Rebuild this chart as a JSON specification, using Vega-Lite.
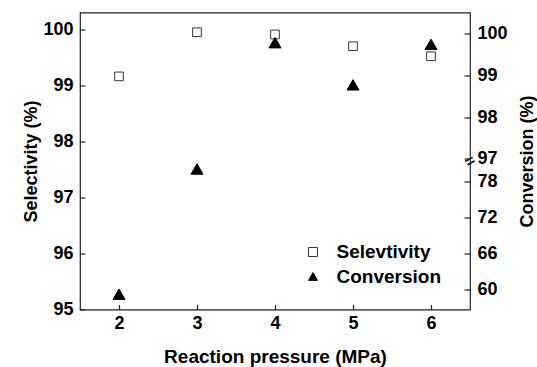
{
  "$schema": "https://vega.github.io/schema/vega-lite/v6.json",
  "width": 390,
  "height": 297,
  "autosize": {"type": "none"},
  "padding": {"left": 80, "top": 12.5, "right": 67, "bottom": 57.5},
  "background": "white",
  "config": {
    "view": {"stroke": "#222", "strokeWidth": 1.2},
    "font": "Liberation Sans",
    "axis": {
      "domain": false,
      "grid": false,
      "tickColor": "#222",
      "tickSize": -5,
      "tickWidth": 1.2,
      "labelFont": "Liberation Sans",
      "labelFontWeight": "bold",
      "labelFontSize": 18,
      "labelColor": "#000",
      "titleFont": "Liberation Sans",
      "titleFontWeight": "bold",
      "titleFontSize": 18,
      "titleColor": "#000"
    },
    "legend": {
      "orient": "none",
      "legendX": 223.5,
      "legendY": 230,
      "padding": 0,
      "labelFont": "Liberation Sans",
      "labelFontWeight": "bold",
      "labelFontSize": 19,
      "labelColor": "#000",
      "labelOffset": 14,
      "symbolSize": 80,
      "symbolStrokeWidth": 1,
      "rowPadding": 4.5
    }
  },
  "data": {
    "values": [
      {"pressure": 2, "selectivity": 99.17, "conversion": 59.3},
      {"pressure": 3, "selectivity": 99.96, "conversion": 80.1},
      {"pressure": 4, "selectivity": 99.92, "conversion": 99.78},
      {"pressure": 5, "selectivity": 99.71, "conversion": 98.77},
      {"pressure": 6, "selectivity": 99.53, "conversion": 99.74}
    ]
  },
  "encoding": {
    "x": {
      "field": "pressure",
      "type": "quantitative",
      "scale": {"domain": [1.5, 6.5], "nice": false, "zero": false},
      "axis": {
        "values": [2, 3, 4, 5, 6],
        "title": "Reaction pressure (MPa)",
        "titleFontSize": 19,
        "labelPadding": 10,
        "titlePadding": 15
      }
    }
  },
  "layer": [
    {
      "mark": {"type": "point", "size": 75, "opacity": 1, "strokeWidth": 1, "filled": false},
      "encoding": {
        "y": {
          "field": "selectivity",
          "type": "quantitative",
          "scale": {"domain": [95, 100.313], "nice": false, "zero": false},
          "axis": {
            "orient": "left",
            "values": [95, 96, 97, 98, 99, 100],
            "title": "Selectivity (%)",
            "labelPadding": 12,
            "titlePadding": 2
          }
        },
        "shape": {"datum": "Selevtivity", "scale": {"domain": ["Selevtivity", "Conversion"], "range": ["square", "triangle-up"]}, "title": null},
        "fill": {"datum": "Selevtivity", "scale": {"domain": ["Selevtivity", "Conversion"], "range": ["white", "black"]}, "title": null},
        "stroke": {"datum": "Selevtivity", "scale": {"domain": ["Selevtivity", "Conversion"], "range": ["#333", "black"]}, "title": null}
      }
    },
    {
      "mark": {"type": "point", "size": 144, "opacity": 1, "strokeWidth": 1, "filled": true},
      "encoding": {
        "y": {
          "field": "conversion",
          "type": "quantitative",
          "scale": {"domain": [56.76, 81, 97, 100.503], "range": [297, 151.1, 146.25, 0], "nice": false, "zero": false},
          "axis": {
            "orient": "right",
            "values": [60, 66, 72, 78, 97, 98, 99, 100],
            "title": "Conversion (%)",
            "tickSize": -6,
            "labelPadding": 13,
            "labelFont": "Liberation Sans",
            "labelFontWeight": 700,
            "titleAngle": 270,
            "titleBaseline": "top",
            "titlePadding": 11
          }
        },
        "shape": {"datum": "Conversion", "title": null},
        "fill": {"datum": "Conversion", "title": null},
        "stroke": {"datum": "Conversion", "title": null}
      }
    },
    {
      "mark": {"type": "text", "text": "=", "fontSize": 16, "font": "Liberation Sans", "angle": -30, "color": "#222"},
      "encoding": {
        "x": {"datum": 6.5, "type": "quantitative"},
        "y": {
          "datum": 88.5,
          "type": "quantitative",
          "scale": {"domain": [56.76, 81, 97, 100.503], "range": [297, 151.1, 146.25, 0], "nice": false, "zero": false},
          "axis": null
        }
      }
    }
  ],
  "resolve": {"scale": {"y": "independent"}}
}
